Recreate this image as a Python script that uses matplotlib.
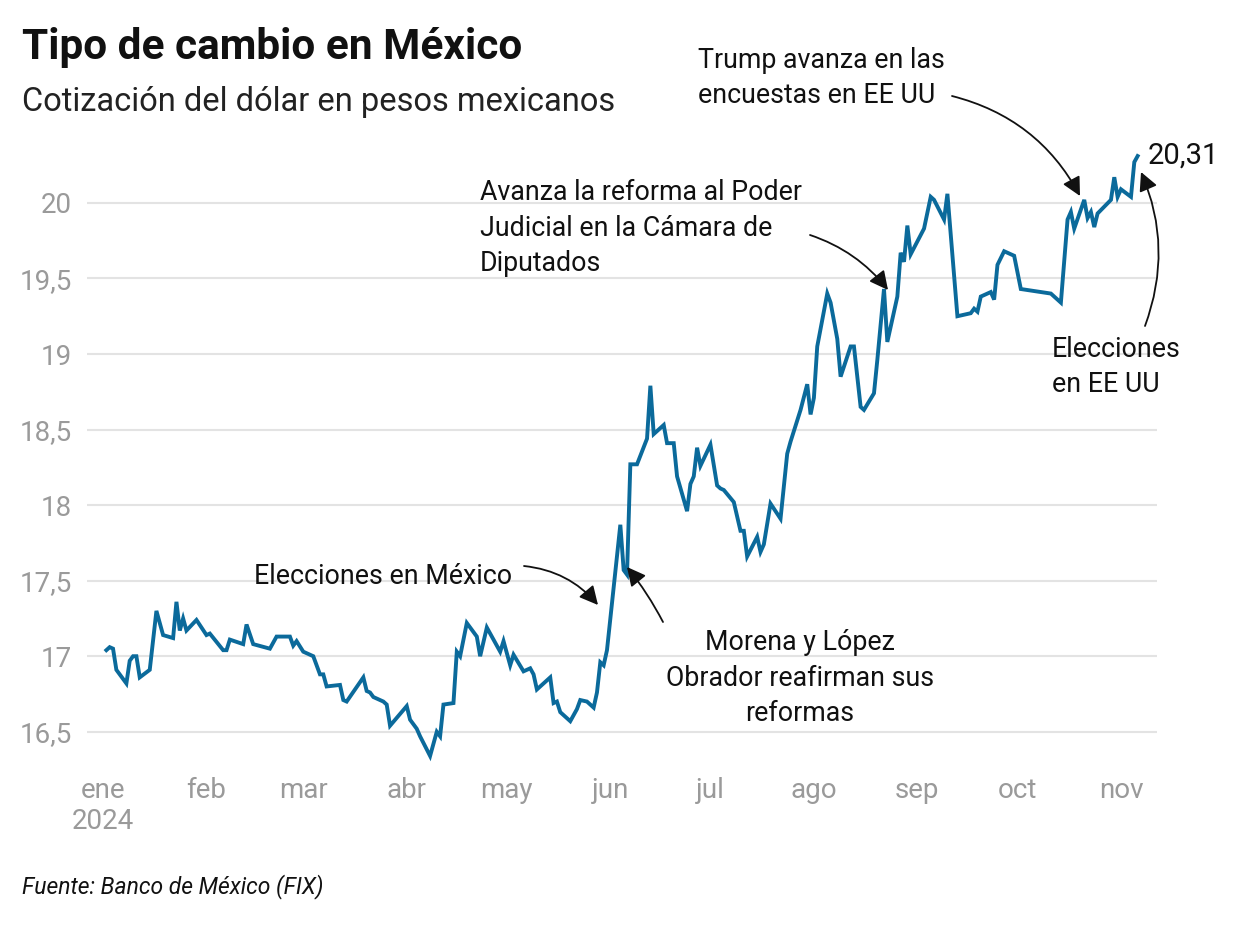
import matplotlib
matplotlib.use("Agg")
import matplotlib.pyplot as plt
import pandas as pd

# Tipo de cambio FIX (pesos por dólar)
fechas = [
    "01-02", "01-03", "01-04", "01-05", "01-08", "01-09", "01-10", "01-11", "01-12", "01-15",
    "01-17", "01-19", "01-22", "01-23", "01-24", "01-25", "01-26", "01-29", "02-01", "02-02",
    "02-06", "02-07", "02-08", "02-12", "02-13", "02-15", "02-20", "02-22", "02-26", "02-27",
    "02-28", "03-01", "03-04", "03-06", "03-07", "03-08", "03-12", "03-13", "03-14", "03-19",
    "03-20", "03-21", "03-22", "03-25", "03-26", "03-27", "04-01", "04-02", "04-04", "04-05",
    "04-08", "04-10", "04-11", "04-12", "04-15", "04-16", "04-17", "04-19", "04-22", "04-23",
    "04-25", "04-29", "04-30", "05-02", "05-03", "05-06", "05-08", "05-09", "05-10", "05-14",
    "05-15", "05-16", "05-17", "05-20", "05-22", "05-23", "05-25", "05-27", "05-28", "05-29",
    "05-30", "05-31", "06-04", "06-05", "06-06", "06-07", "06-09", "06-12", "06-13", "06-14",
    "06-17", "06-18", "06-20", "06-21", "06-24", "06-25", "06-26", "06-27", "06-28", "07-01",
    "07-03", "07-04", "07-05", "07-08", "07-10", "07-11", "07-12", "07-15", "07-16", "07-17",
    "07-19", "07-22", "07-24", "07-25", "07-28", "07-30", "07-31", "08-01", "08-02", "08-05",
    "08-06", "08-08", "08-09", "08-12", "08-13", "08-15", "08-16", "08-19", "08-20", "08-22",
    "08-23", "08-26", "08-27", "08-28", "08-29", "08-30", "09-03", "09-05", "09-06", "09-09",
    "09-10", "09-13", "09-17", "09-18", "09-19", "09-20", "09-23", "09-24", "09-25", "09-27",
    "09-30", "10-02", "10-11", "10-14", "10-16", "10-17", "10-18", "10-21", "10-22", "10-23",
    "10-24", "10-25", "10-29", "10-30", "10-31", "11-01", "11-04", "11-05", "11-06",
]
cotizacion = [
    17.04, 17.06, 17.05, 16.91, 16.82, 16.97, 17.00, 17.00, 16.86, 16.91,
    17.30, 17.14, 17.12, 17.36, 17.17, 17.25, 17.17, 17.24, 17.14, 17.15,
    17.04, 17.04, 17.11, 17.08, 17.21, 17.08, 17.05, 17.13, 17.13, 17.07,
    17.10, 17.03, 17.00, 16.88, 16.88, 16.80, 16.81, 16.71, 16.70, 16.86,
    16.77, 16.76, 16.73, 16.70, 16.68, 16.54, 16.67, 16.58, 16.52, 16.47,
    16.34, 16.50, 16.47, 16.68, 16.69, 17.03, 17.00, 17.22, 17.13, 17.00,
    17.19, 17.03, 17.10, 16.94, 17.01, 16.90, 16.92, 16.88, 16.78, 16.86,
    16.69, 16.70, 16.63, 16.57, 16.65, 16.71, 16.70, 16.66, 16.76, 16.96,
    16.94, 17.04, 17.87, 17.57, 17.54, 18.27, 18.27, 18.44, 18.79, 18.47,
    18.53, 18.41, 18.41, 18.19, 17.96, 18.14, 18.19, 18.38, 18.26, 18.40,
    18.13, 18.11, 18.10, 18.02, 17.83, 17.83, 17.66, 17.79, 17.69, 17.74,
    18.01, 17.91, 18.34, 18.42, 18.63, 18.80, 18.60, 18.71, 19.05, 19.40,
    19.34, 19.10, 18.85, 19.05, 19.05, 18.65, 18.63, 18.74, 18.96, 19.43,
    19.08, 19.38, 19.67, 19.61, 19.85, 19.66, 19.83, 20.04, 20.02, 19.89,
    20.06, 19.25, 19.27, 19.30, 19.28, 19.38, 19.41, 19.36, 19.59, 19.68,
    19.65, 19.43, 19.40, 19.34, 19.89, 19.94, 19.83, 20.02, 19.90, 19.94,
    19.84, 19.93, 20.02, 20.17, 20.04, 20.09, 20.04, 20.27, 20.31,
]

meses = ["ene\n2024", "feb", "mar", "abr", "may", "jun", "jul", "ago", "sep", "oct", "nov"]
yticks = [16.5, 17, 17.5, 18, 18.5, 19, 19.5, 20]

fechas = pd.to_datetime(["2024-" + f for f in fechas])

fuente = "Roboto"

W, H = 1240, 934
fig = plt.figure(figsize=(W / 100, H / 100), dpi=100)


def px(x, y):
    return (x / W, 1 - y / H)


ax = fig.add_axes([87 / W, 1 - 762 / H, (1157 - 87) / W, (762 - 150) / H])

azul = "#0b6a9b"
ax.plot(fechas, cotizacion, color=azul, lw=2.8, solid_joinstyle="miter", zorder=3)

inicio = pd.Timestamp("2024-01-01")
ax.set_xlim(inicio - pd.Timedelta(days=4.8), inicio + pd.Timedelta(days=315.8))
ax.set_ylim(16.3, 20.35)

ticks_x = pd.date_range("2024-01-01", periods=11, freq="MS")
ax.set_xticks(ticks_x)
ax.set_xticklabels(meses, fontsize=20, color="#9a9a9a", family=fuente, linespacing=1.2)
ax.set_yticks(yticks)
ax.set_yticklabels([f"{v:g}".replace(".", ",") for v in yticks],
                   fontsize=20, color="#9a9a9a", family=fuente)
ax.tick_params(axis="both", length=0)
ax.tick_params(axis="y", pad=11)
ax.tick_params(axis="x", pad=11)
for s in ax.spines.values():
    s.set_visible(False)
ax.grid(axis="y", color="#e3e3e3", lw=1.5)
ax.set_axisbelow(True)

# titulos
fig.text(22 / W, 1 - 48 / H, "Tipo de cambio en México", fontsize=30.5, fontweight="bold",
         family=fuente, color="#111111", va="center", ha="left")
fig.text(22 / W, 1 - 102 / H, "Cotización del dólar en pesos mexicanos", fontsize=23.5,
         family=fuente, color="#222222", va="center", ha="left")
fig.text(22 / W, 1 - 887 / H, "Fuente: Banco de México (FIX)", fontsize=16.5, style="italic",
         family=fuente, color="#111111", va="center", ha="left")

# valor final
ax.annotate(f"{cotizacion[-1]:.2f}".replace(".", ","), xy=(fechas[-1], cotizacion[-1]),
            xytext=(7, 0), textcoords="offset points", fontsize=21, family=fuente,
            color="#111111", va="center", ha="left")

# anotaciones
notas = [
    ("Trump avanza en las\nencuestas en EE UU", (698, 78), "left", (952, 96), (1080, 196), -0.22),
    ("Avanza la reforma al Poder\nJudicial en la Cámara de\nDiputados", (480, 228), "left",
     (810, 235), (888, 290), -0.15),
    ("Elecciones en México", (254, 577), "left", (524, 566), (598, 605), -0.2),
    ("Morena y López\nObrador reafirman sus\nreformas", (800, 678), "center",
     (663, 622), (627, 567), 0.05),
    ("Elecciones\nen EE UU", (1052, 367), "left", (1145, 326), (1141, 172), 0.2),
]
for txt, pos, ha, desde, hasta, rad in notas:
    fig.text(*px(*pos), txt, fontsize=19.3, family=fuente, color="#111111",
             ha=ha, va="center", linespacing=1.42, multialignment=ha)
    ax.annotate("", xy=px(*hasta), xycoords="figure fraction",
                xytext=px(*desde), textcoords="figure fraction",
                arrowprops=dict(arrowstyle="-|>,head_length=0.75,head_width=0.38",
                                mutation_scale=15, color="#111111", lw=1.3,
                                connectionstyle=f"arc3,rad={rad}", shrinkA=0, shrinkB=0))

fig.savefig("out.png", dpi=100)
